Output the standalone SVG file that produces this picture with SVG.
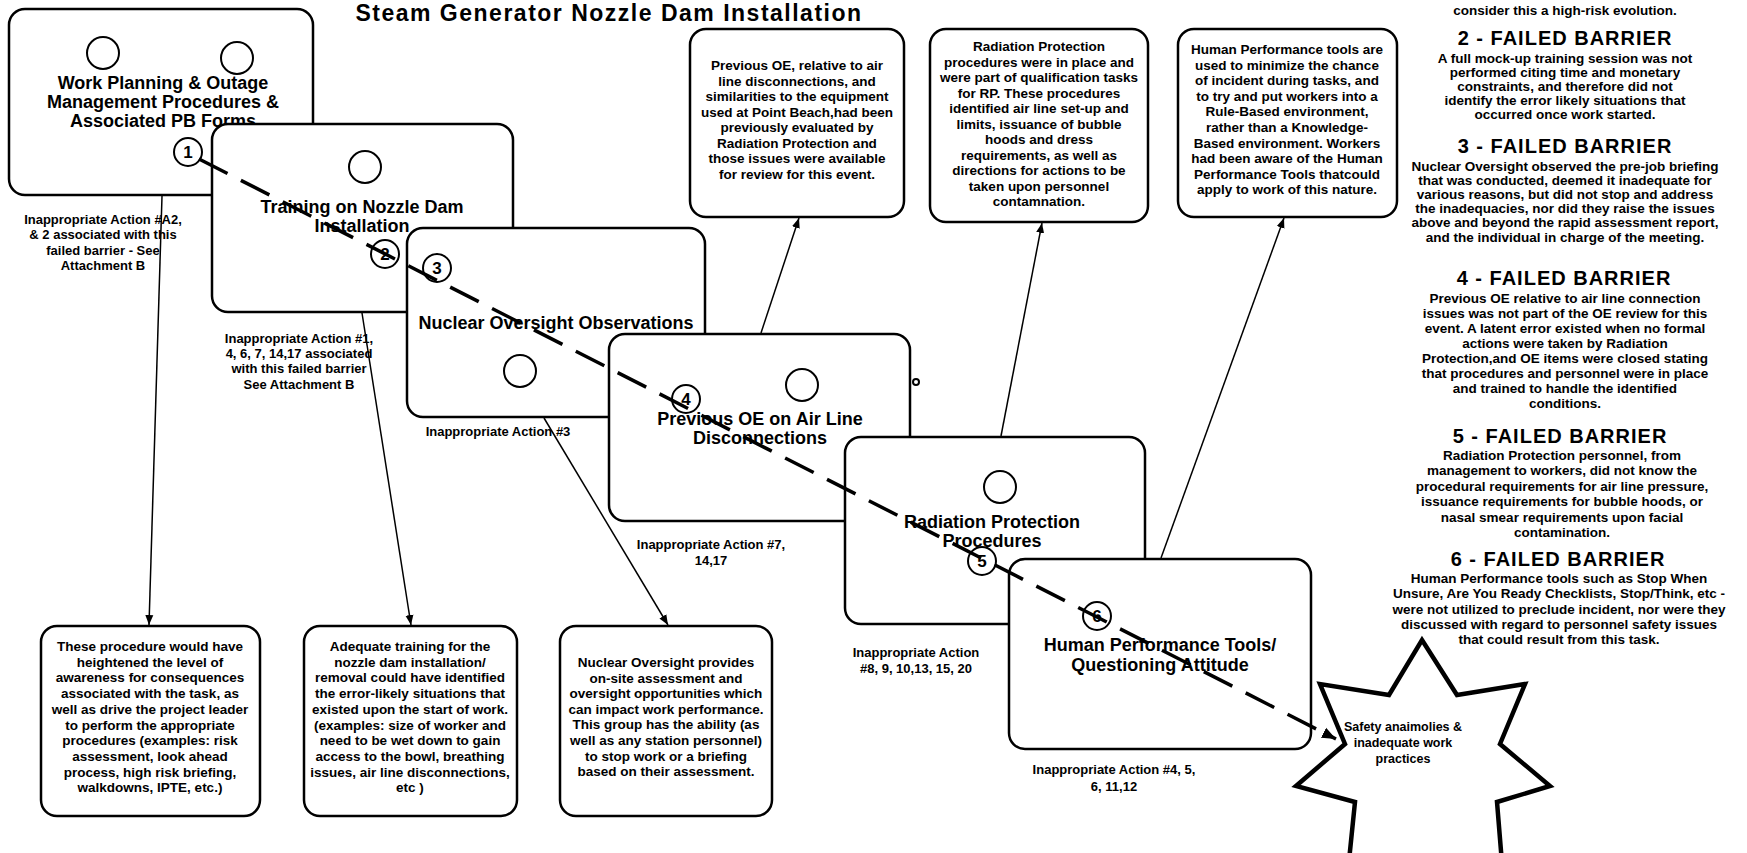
<svg xmlns="http://www.w3.org/2000/svg" width="1747" height="853" viewBox="0 0 1747 853">
<style>
.box{fill:#fff;stroke:#000;stroke-width:2.5}
.circ{fill:none;stroke:#000;stroke-width:2}
.num{fill:#fff;stroke:#000;stroke-width:2}
.t{font-family:"Liberation Sans",Arial,sans-serif;font-weight:bold;text-anchor:middle;fill:#000}
.h{font-size:18px}
.b{font-size:13.5px}
.l{font-size:13px}
.s{font-size:12.5px}
.n{font-size:17px}
.fb{font-size:20px;letter-spacing:1px}
.r{font-size:13.5px}
.ti{font-size:23px;letter-spacing:1.5px}
.conn{stroke:#000;stroke-width:1.5;fill:none}
.dash{stroke:#000;stroke-width:3.5;stroke-dasharray:32 15;fill:none}
.star{fill:#fff;stroke:#000;stroke-width:4.5;stroke-linejoin:miter}
</style>
<defs>
<marker id="ah" viewBox="0 0 10 10" refX="10" refY="5" markerWidth="10" markerHeight="10" markerUnits="userSpaceOnUse" orient="auto"><path d="M0,1 L10,5 L0,9 z" fill="#000"/></marker>
<marker id="ahd" viewBox="0 0 10 10" refX="10" refY="5" markerWidth="14" markerHeight="14" markerUnits="userSpaceOnUse" orient="auto"><path d="M0,1 L10,5 L0,9 z" fill="#000"/></marker>
</defs>
<rect width="1747" height="853" fill="#fff"/>

<text class="t ti" x="609" y="21">Steam Generator Nozzle Dam Installation</text>

<g id="failed-barriers">
<text class="t r" x="1565" y="15">consider this a high-risk evolution.</text>
<text class="t fb" x="1565" y="45">2 - FAILED BARRIER</text>
<text class="t r"><tspan x="1565" y="63">A full mock-up training session was not</tspan><tspan x="1565" y="77">performed citing time and monetary</tspan><tspan x="1565" y="91">constraints, and therefore did not</tspan><tspan x="1565" y="105">identify the error likely situations that</tspan><tspan x="1565" y="119">occurred once work started.</tspan></text>
<text class="t fb" x="1565" y="153">3 - FAILED BARRIER</text>
<text class="t r"><tspan x="1565" y="171">Nuclear Oversight observed the pre-job briefing</tspan><tspan x="1565" y="185">that was conducted, deemed it inadequate for</tspan><tspan x="1565" y="199">various reasons, but did not stop and address</tspan><tspan x="1565" y="213">the inadequacies, nor did they raise the issues</tspan><tspan x="1565" y="227">above and beyond the rapid assessment report,</tspan><tspan x="1565" y="242">and the individual in charge of the meeting.</tspan></text>
<text class="t fb" x="1564" y="285">4 - FAILED BARRIER</text>
<text class="t r"><tspan x="1565" y="303">Previous OE relative to air line connection</tspan><tspan x="1565" y="318">issues was not part of the OE review for this</tspan><tspan x="1565" y="333">event.  A latent error existed when no formal</tspan><tspan x="1565" y="348">actions were taken by Radiation</tspan><tspan x="1565" y="363">Protection,and OE items were closed stating</tspan><tspan x="1565" y="378">that procedures and personnel were in place</tspan><tspan x="1565" y="393">and trained to handle the identified</tspan><tspan x="1565" y="408">conditions.</tspan></text>
<text class="t fb" x="1560" y="443">5 - FAILED BARRIER</text>
<text class="t r"><tspan x="1562" y="460">Radiation Protection personnel, from</tspan><tspan x="1562" y="475">management to workers, did not know the</tspan><tspan x="1562" y="491">procedural requirements for air line pressure,</tspan><tspan x="1562" y="506">issuance requirements for bubble hoods, or</tspan><tspan x="1562" y="522">nasal smear requirements upon facial</tspan><tspan x="1562" y="537">contamination.</tspan></text>
<text class="t fb" x="1558" y="566">6 - FAILED BARRIER</text>
<text class="t r"><tspan x="1559" y="583">Human Performance tools such as Stop When</tspan><tspan x="1559" y="598">Unsure, Are You Ready Checklists, Stop/Think, etc -</tspan><tspan x="1559" y="614">were not utilized to preclude incident, nor were they</tspan><tspan x="1559" y="629">discussed with regard to personnel safety issues</tspan><tspan x="1559" y="644">that could result from this task.</tspan></text>
</g>

<g id="oe-desc">
<rect class="box" x="690" y="29" width="214" height="188" rx="16"/>
<text class="t b"><tspan x="797" y="70">Previous OE, relative to air</tspan><tspan x="797" y="85.5">line disconnections, and</tspan><tspan x="797" y="101">similarities to the equipment</tspan><tspan x="797" y="116.5">used at Point Beach,had been</tspan><tspan x="797" y="132">previously evaluated by</tspan><tspan x="797" y="147.5">Radiation Protection and</tspan><tspan x="797" y="163">those issues were available</tspan><tspan x="797" y="178.5">for review for this event.</tspan></text>
</g>
<g id="rp-desc">
<rect class="box" x="930" y="29" width="218" height="193" rx="16"/>
<text class="t b"><tspan x="1039" y="51">Radiation Protection</tspan><tspan x="1039" y="66.5">procedures were in place and</tspan><tspan x="1039" y="82">were part of qualification tasks</tspan><tspan x="1039" y="97.5">for RP.  These procedures</tspan><tspan x="1039" y="113">identified air line set-up and</tspan><tspan x="1039" y="128.5">limits, issuance of bubble</tspan><tspan x="1039" y="144">hoods and dress</tspan><tspan x="1039" y="159.5">requirements, as well as</tspan><tspan x="1039" y="175">directions for actions to be</tspan><tspan x="1039" y="190.5">taken upon personnel</tspan><tspan x="1039" y="206">contamnation.</tspan></text>
</g>
<g id="hp-desc">
<rect class="box" x="1178" y="29" width="219" height="188" rx="16"/>
<text class="t b"><tspan x="1287" y="54">Human Performance tools are</tspan><tspan x="1287" y="69.6">used to minimize the chance</tspan><tspan x="1287" y="85.2">of incident during tasks, and</tspan><tspan x="1287" y="100.8">to try and put workers into a</tspan><tspan x="1287" y="116.4">Rule-Based environment,</tspan><tspan x="1287" y="132">rather than a Knowledge-</tspan><tspan x="1287" y="147.6">Based environment.  Workers</tspan><tspan x="1287" y="163.2">had been aware of the Human</tspan><tspan x="1287" y="178.8">Performance Tools thatcould</tspan><tspan x="1287" y="194.4">apply to work of this nature.</tspan></text>
</g>

<g id="proc-desc">
<rect class="box" x="41" y="626" width="219" height="190" rx="16"/>
<text class="t b"><tspan x="150" y="651">These procedure would have</tspan><tspan x="150" y="666.7">heightened the level of</tspan><tspan x="150" y="682.4">awareness for consequences</tspan><tspan x="150" y="698.1">associated with the task, as</tspan><tspan x="150" y="713.8">well as drive the project leader</tspan><tspan x="150" y="729.5">to perform the appropriate</tspan><tspan x="150" y="745.2">procedures (examples:  risk</tspan><tspan x="150" y="760.9">assessment, look ahead</tspan><tspan x="150" y="776.6">process, high risk briefing,</tspan><tspan x="150" y="792.3">walkdowns, IPTE, etc.)</tspan></text>
</g>
<g id="training-desc">
<rect class="box" x="304" y="626" width="213" height="190" rx="16"/>
<text class="t b"><tspan x="410" y="651">Adequate training for the</tspan><tspan x="410" y="666.7">nozzle dam installation/</tspan><tspan x="410" y="682.4">removal could have identified</tspan><tspan x="410" y="698.1">the error-likely situations that</tspan><tspan x="410" y="713.8">existed upon the start of work.</tspan><tspan x="410" y="729.5">(examples:  size of worker and</tspan><tspan x="410" y="745.2">need to be wet down to gain</tspan><tspan x="410" y="760.9">access to the bowl, breathing</tspan><tspan x="410" y="776.6">issues, air line disconnections,</tspan><tspan x="410" y="792.3">etc )</tspan></text>
</g>
<g id="no-desc">
<rect class="box" x="560" y="626" width="212" height="190" rx="16"/>
<text class="t b"><tspan x="666" y="667">Nuclear Oversight  provides</tspan><tspan x="666" y="682.6">on-site assessment and</tspan><tspan x="666" y="698.2">oversight opportunities which</tspan><tspan x="666" y="713.8">can impact work performance.</tspan><tspan x="666" y="729.4">This group has the ability (as</tspan><tspan x="666" y="745">well as any station personnel)</tspan><tspan x="666" y="760.6">to stop work or a briefing</tspan><tspan x="666" y="776.2">based on their assessment.</tspan></text>
</g>

<g id="labels">
<text class="t l"><tspan x="103" y="224">Inappropriate Action #A2,</tspan><tspan x="103" y="239">&amp; 2 associated with this</tspan><tspan x="103" y="255">failed barrier - See</tspan><tspan x="103" y="270">Attachment B</tspan></text>
<text class="t l"><tspan x="299" y="343">Inappropriate Action #1,</tspan><tspan x="299" y="358">4, 6, 7, 14,17 associated</tspan><tspan x="299" y="373">with this failed barrier</tspan><tspan x="299" y="389">See Attachment B</tspan></text>
<text class="t l" x="498" y="436">Inappropriate Action #3</text>
<text class="t l"><tspan x="711" y="549">Inappropriate Action #7,</tspan><tspan x="711" y="565">14,17</tspan></text>
<text class="t l"><tspan x="916" y="657">Inappropriate Action</tspan><tspan x="916" y="673">#8, 9, 10,13, 15, 20</tspan></text>
<text class="t l"><tspan x="1114" y="774">Inappropriate Action #4, 5,</tspan><tspan x="1114" y="791">6, 11,12</tspan></text>
</g>

<g id="connectors">
<line class="conn" x1="162" y1="196" x2="149" y2="625" marker-end="url(#ah)"/>
<line class="conn" x1="362" y1="313" x2="411" y2="625" marker-end="url(#ah)"/>
<line class="conn" x1="544" y1="418" x2="668" y2="625" marker-end="url(#ah)"/>
<line class="conn" x1="761" y1="333" x2="799" y2="218" marker-end="url(#ah)"/>
<line class="conn" x1="1001" y1="436" x2="1042" y2="223" marker-end="url(#ah)"/>
<line class="conn" x1="1161" y1="558" x2="1284" y2="218" marker-end="url(#ah)"/>
</g>

<g id="work-planning">
<rect class="box" x="9" y="9" width="304" height="186" rx="16"/>
<circle class="circ" cx="103" cy="53" r="16"/>
<circle class="circ" cx="237" cy="58" r="16"/>
<text class="t h"><tspan x="163" y="89">Work Planning &amp; Outage</tspan><tspan x="163" y="108">Management Procedures &amp;</tspan><tspan x="163" y="127">Associated PB Forms</tspan></text>
</g>
<g id="training">
<rect class="box" x="212" y="124" width="301" height="188" rx="16"/>
<circle class="circ" cx="365" cy="167" r="16"/>
<text class="t h"><tspan x="362" y="213">Training on Nozzle Dam</tspan><tspan x="362" y="232">Installation</tspan></text>
</g>
<g id="nuclear-oversight">
<rect class="box" x="407" y="228" width="298" height="189" rx="16"/>
<circle class="circ" cx="520" cy="371" r="16"/>
<text class="t h" x="556" y="329">Nuclear Oversight Observations</text>
</g>
<g id="previous-oe">
<rect class="box" x="609" y="334" width="301" height="187" rx="16"/>
<circle class="circ" cx="802" cy="385" r="16"/>
<circle class="circ" cx="916" cy="382" r="3" stroke-width="1.5"/>
<text class="t h"><tspan x="760" y="425">Previous OE on Air Line</tspan><tspan x="760" y="444">Disconnections</tspan></text>
</g>
<g id="radiation-protection">
<rect class="box" x="845" y="437" width="300" height="187" rx="16"/>
<circle class="circ" cx="1000" cy="487" r="16"/>
<text class="t h"><tspan x="992" y="528">Radiation Protection</tspan><tspan x="992" y="547">Procedures</tspan></text>
</g>
<g id="human-performance">
<rect class="box" x="1009" y="559" width="302" height="190" rx="16"/>
<text class="t h"><tspan x="1160" y="651">Human Performance Tools/</tspan><tspan x="1160" y="671">Questioning Attitude</tspan></text>
</g>

<g id="safety-star">
<polygon class="star" points="1422,640 1457,695 1525,684 1500,744 1550,786 1497,802 1505,900 1425,870 1345,900 1355,802 1296,786 1345,744 1320,684 1389,695"/>
<text class="t s"><tspan x="1403" y="731">Safety anaimolies &amp;</tspan><tspan x="1403" y="747">inadequate work</tspan><tspan x="1403" y="763">practices</tspan></text>
</g>

<g id="barrier-path">
<g id="barrier-numbers">
<circle class="num" cx="188" cy="152" r="14"/><text class="t n" x="188" y="158">1</text>
<circle class="num" cx="385" cy="254" r="14"/><text class="t n" x="385" y="260">2</text>
<circle class="num" cx="437" cy="268" r="14"/><text class="t n" x="437" y="274">3</text>
<circle class="num" cx="686" cy="399" r="14"/><text class="t n" x="686" y="405">4</text>
<circle class="num" cx="982" cy="561" r="14"/><text class="t n" x="982" y="567">5</text>
<circle class="num" cx="1097" cy="616" r="14"/><text class="t n" x="1097" y="622">6</text>
</g>
<line class="dash" x1="199" y1="159" x2="1336" y2="739" marker-end="url(#ahd)"/>
</g>
</svg>
